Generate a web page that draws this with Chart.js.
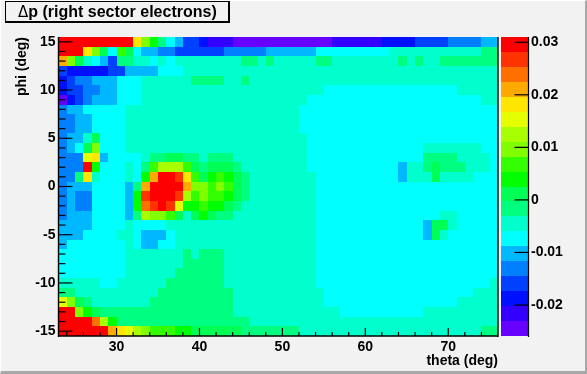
<!DOCTYPE html>
<html>
<head>
<meta charset="utf-8">
<title>dp right sector electrons</title>
<script src="https://cdn.jsdelivr.net/npm/chart.js@4"></script>
<style>
  html, body { margin: 0; padding: 0; overflow: hidden; background: #f2f2f2; }
  #frame { position: absolute; left: 0; top: 0; width: 587px; height: 374px; box-sizing: border-box;
           background: #f2f2f2; border-style: solid; border-width: 1px 2px 3px 1px;
           border-color: #fff #a8a8a8 #a8a8a8 #fff; }
  canvas { position: absolute; left: 0; top: 0; }
</style>
</head>
<body>
<div id="frame"></div>
<canvas id="mapChart" width="587" height="374"></canvas>
<canvas id="paletteChart" width="587" height="374"></canvas>
<script>
// bins
const thetaLow = 23;
const thetaHigh = 76;
const phiLow = -15.5;
const phiHigh = 15.5;

// dp per cell, in units of 0.001. One list per phi row, theta 23 -> 76
const phiP15 = [30,30,30,30,30,30,30,30,30,18, 10,4,-2,-7,-10,-16,-16,-19,-22,-22, -22,-25,-25,-25,-25,-25,-25,-25,-25,-25, -25,-25,-25,-22,-22,-22,-22,-22,-22,-19, -19,-19,-19,-16,-16,-16,-16,-13,-13,-13, -13,-10,-10];
const phiP14 = [30,30,30,18,10,1,-7,7,1,-7, -10,-10,-13,-13,-16,-16,-16,-16,-16,-16, -13,-13,-13,-13,-13,-10,-10,-10,-10,-10, -10,-7,-7,-7,-7,-7,-7,-7,-7,-7, -5,-5,-5,-5,-5,-5,-5,-5,-5,-5, -5,-2,-2];
const phiP13 = [21,10,1,-5,-7,-10,-16,-2,-2,-5, -5,-7,-5,-7,-5,-5,-5,-5,-5,-5, -5,-5,-2,-2,-5,-2,-5,-5,-5,-5, -5,-2,-2,-5,-5,-5,-5,-5,-5,-5, -5,-2,-5,-2,-5,-5,-2,-2,-2,-2, -2,-2,-2];
const phiP12 = [-16,-19,-19,-19,-19,-19,-16,-16,-10,-10, -10,-10,-7,-7,-7,-5,-5,-5,-5,-5, -5,-5,-5,-5,-5,-5,-5,-5,-5,-5, -5,-5,-5,-5,-5,-5,-5,-5,-5,-5, -5,-5,-5,-5,-5,-5,-5,-5,-5,-5, -5,-5,-5];
const phiP11 = [-19,-16,-13,-13,-10,-10,-10,-7,-7,-7, -5,-5,-5,-5,-5,-5,-2,-2,-2,-2, -5,-5,-2,-5,-5,-5,-5,-5,-5,-5, -5,-5,-5,-5,-5,-5,-5,-5,-5,-5, -5,-5,-5,-5,-5,-5,-5,-5,-5,-5, -5,-5,-5];
const phiP10 = [-19,-16,-16,-13,-13,-10,-10,-7,-7,-7, -5,-5,-5,-5,-5,-5,-5,-5,-5,-5, -5,-5,-5,-5,-5,-5,-5,-5,-5,-5, -5,-5,-7,-7,-7,-7,-7,-7,-7,-7, -7,-7,-7,-7,-7,-7,-7,-7,-5,-5, -5,-5,-5];
const phiP9 = [-25,-19,-16,-13,-10,-10,-10,-7,-7,-7, -5,-5,-5,-5,-5,-5,-5,-5,-5,-5, -5,-5,-5,-5,-5,-5,-5,-5,-5,-5, -7,-7,-7,-7,-7,-7,-7,-7,-7,-7, -7,-7,-7,-7,-7,-7,-7,-7,-7,-7, -7,-5,-5];
const phiP8 = [-13,-10,-10,-7,-7,-7,-7,-7,-5,-5, -5,-5,-5,-5,-5,-5,-5,-5,-5,-5, -5,-5,-5,-5,-5,-5,-5,-5,-5,-7, -7,-7,-7,-7,-7,-7,-7,-7,-7,-7, -7,-7,-7,-7,-7,-7,-7,-7,-7,-7, -7,-7,-7];
const phiP7 = [-13,-13,-10,-10,-7,-7,-7,-7,-5,-5, -5,-5,-5,-5,-5,-5,-5,-5,-5,-5, -5,-5,-5,-5,-5,-5,-5,-5,-5,-7, -7,-7,-7,-7,-7,-7,-7,-7,-7,-7, -7,-7,-7,-7,-7,-7,-7,-7,-7,-7, -7,-7,-7];
const phiP6 = [-13,-13,-10,-10,-7,-7,-7,-7,-5,-5, -5,-5,-5,-5,-5,-5,-5,-5,-5,-5, -5,-5,-5,-5,-5,-5,-5,-5,-5,-7, -7,-7,-7,-7,-7,-7,-7,-7,-7,-7, -7,-7,-7,-7,-7,-7,-7,-7,-7,-7, -7,-7,-7];
const phiP5 = [-13,-10,-10,-5,1,-7,-7,-7,-5,-5, -5,-5,-5,-5,-5,-5,-5,-5,-5,-5, -5,-5,-5,-5,-5,-5,-5,-5,-5,-5, -7,-7,-7,-7,-7,-7,-7,-7,-7,-7, -7,-7,-7,-7,-7,-7,-7,-7,-7,-7, -7,-7,-7];
const phiP4 = [-13,-10,-7,1,10,-7,-7,-7,-5,-5, -5,-5,-5,-5,-5,-5,-5,-5,-5,-5, -5,-5,-5,-5,-5,-5,-5,-5,-5,-5, -7,-7,-7,-7,-7,-7,-7,-7,-7,-7, -7,-7,-7,-7,-5,-5,-5,-5,-5,-5, -5,-7,-7];
const phiP3 = [-13,-13,-13,15,18,-10,-7,-7,-7,-7, -5,-2,-2,1,1,-2,-2,-5,-2,-2, -2,-5,-5,-5,-5,-5,-5,-5,-5,-5, -7,-7,-7,-7,-7,-7,-7,-7,-7,-7, -7,-7,-7,-7,-2,-2,-2,-2,-5,-5, -5,-5,-7];
const phiP2 = [-13,-13,-13,30,4,-7,-7,-7,-5,-7, -2,7,13,13,13,7,1,-2,1,1, 1,-2,-5,-5,-5,-5,-5,-5,-5,-5, -7,-7,-7,-7,-7,-7,-7,-7,-7,-7, -7,-10,-5,-5,-2,1,-2,-2,-2,-5, -5,-5,-7];
const phiP1 = [-13,-13,-2,18,-5,-7,-7,-7,-5,-7, 4,21,30,30,27,18,7,1,4,7, 4,1,-2,-5,-5,-5,-5,-5,-5,-5, -5,-7,-7,-7,-7,-7,-7,-7,-7,-7, -7,-10,-5,-5,-5,1,-5,-5,-5,-5, -7,-7,-7];
const phi0 = [-13,-10,-10,-10,-7,-7,-7,-7,-10,-2, 21,30,30,30,30,21,10,10,7,10, 7,1,-2,-5,-5,-5,-5,-5,-5,-5, -5,-7,-7,-7,-7,-7,-7,-7,-7,-7, -7,-7,-7,-7,-7,-7,-7,-7,-7,-7, -7,-7,-7];
const phiM1 = [-13,-10,-13,-13,-7,-7,-7,-7,-10,4, 27,30,30,30,27,13,7,10,7,7, 4,1,-2,-5,-5,-5,-5,-5,-5,-5, -5,-7,-7,-7,-7,-7,-7,-7,-7,-7, -7,-7,-7,-7,-7,-7,-7,-7,-7,-7, -7,-7,-7];
const phiM2 = [-13,-10,-13,-13,-7,-7,-7,-7,-10,4, 24,27,30,27,15,4,4,7,4,4, 1,-2,-5,-5,-5,-5,-5,-5,-5,-5, -5,-7,-7,-7,-7,-7,-7,-7,-7,-7, -7,-7,-7,-7,-7,-7,-7,-7,-7,-7, -7,-7,-7];
const phiM3 = [-13,-10,-10,-10,-7,-7,-7,-7,-10,-2, 13,10,10,7,1,-5,1,4,1,-2, -2,-5,-5,-5,-5,-5,-5,-5,-5,-5, -5,-7,-7,-7,-7,-7,-7,-7,-7,-7, -7,-7,-7,-7,-7,-7,-5,-5,-7,-7, -7,-7,-7];
const phiM4 = [-10,-10,-10,-10,-7,-7,-7,-7,-5,-7, -7,-7,-7,-5,-5,-5,-5,-5,-5,-5, -5,-5,-5,-5,-5,-5,-5,-5,-5,-5, -5,-7,-7,-7,-7,-7,-7,-7,-7,-7, -7,-7,-7,-7,-10,1,1,-5,-7,-7, -7,-7,-7];
const phiM5 = [-10,-10,-10,-7,-7,-7,-7,-5,-5,-7, -10,-10,-10,-7,-5,-5,-5,-5,-5,-5, -5,-5,-5,-5,-5,-5,-5,-5,-5,-5, -5,-7,-7,-7,-7,-7,-7,-7,-7,-7, -7,-7,-7,-7,-10,1,-5,-7,-7,-7, -7,-7,-7];
const phiM6 = [-10,-7,-7,-7,-7,-7,-7,-7,-5,-7, -10,-10,-7,-7,-5,-5,-5,-5,-5,-5, -5,-5,-5,-5,-5,-5,-5,-5,-5,-5, -5,-7,-7,-7,-7,-7,-7,-7,-7,-7, -7,-7,-7,-7,-7,-7,-7,-7,-7,-7, -7,-7,-7];
const phiM7 = [-7,-7,-7,-7,-7,-7,-7,-7,-5,-5, -5,-5,-5,-5,-5,-2,-5,-2,-2,-2, -5,-5,-5,-5,-5,-5,-5,-5,-5,-5, -5,-7,-7,-7,-7,-7,-7,-7,-7,-7, -7,-7,-7,-7,-7,-7,-7,-7,-7,-7, -7,-7,-7];
const phiM8 = [-7,-7,-7,-7,-7,-7,-7,-7,-5,-5, -5,-5,-5,-5,-5,-2,-2,-2,-2,-2, -5,-5,-5,-5,-5,-5,-5,-5,-5,-5, -5,-7,-7,-7,-7,-7,-7,-7,-7,-7, -7,-7,-7,-7,-7,-7,-7,-7,-7,-7, -7,-7,-7];
const phiM9 = [-7,-7,-7,-7,-7,-7,-7,-7,-5,-5, -5,-5,-5,-5,-2,-2,-2,-2,-2,-2, -5,-5,-5,-5,-5,-5,-5,-5,-5,-5, -5,-7,-7,-7,-7,-7,-7,-7,-7,-7, -7,-7,-7,-7,-7,-7,-7,-7,-7,-7, -7,-7,-7];
const phiM10 = [-5,-5,-5,-5,-5,-7,-7,-5,-5,-5, -5,-5,-5,-2,-2,-2,-2,-2,-2,-2, -5,-5,-5,-5,-5,-5,-5,-5,-5,-5, -5,-7,-7,-7,-7,-7,-7,-7,-7,-7, -7,-7,-7,-7,-7,-7,-7,-7,-7,-7, -7,-7,-5];
const phiM11 = [-2,-2,-5,-5,-5,-5,-5,-5,-5,-5, -5,-5,-2,-2,-2,-2,-2,-2,-2,-2, -2,-5,-5,-5,-5,-5,-5,-5,-5,-5, -5,-5,-7,-7,-7,-7,-7,-7,-7,-7, -7,-7,-7,-7,-7,-7,-7,-7,-7,-7, -5,-5,-5];
const phiM12 = [15,10,1,-2,-5,-5,-5,-5,-5,-5, -5,-2,-2,-2,-2,-2,-2,-2,-2,-2, -2,-5,-5,-5,-5,-5,-5,-5,-5,-5, -5,-5,-7,-7,-7,-7,-7,-7,-7,-7, -7,-7,-7,-7,-7,-7,-7,-7,-5,-5, -5,-5,-5];
const phiM13 = [30,30,10,4,1,-2,-2,-2,-2,-2, -2,-2,-2,-2,-2,-2,-2,-2,-2,-2, -2,-5,-5,-5,-5,-5,-5,-5,-5,-5, -5,-5,-5,-5,-7,-7,-7,-7,-7,-7, -7,-7,-7,-7,-5,-5,-5,-5,-5,-5, -5,-5,-5];
const phiM14 = [30,30,30,30,24,13,4,-2,-2,-2, -2,-2,-2,-2,-2,-2,-2,-2,-2,-2, -2,-2,-2,-5,-5,-5,-5,-5,-5,-5, -5,-5,-5,-5,-5,-5,-5,-5,-5,-5, -5,-5,-5,-5,-5,-5,-5,-5,-5,-5, -5,-5,-5];
const phiM15 = [30,30,30,30,30,30,21,18,15,13, 10,7,7,7,4,4,1,1,1,1, 1,1,-2,-2,-2,-2,-2,-2,-2,-5, -5,-5,-5,-5,-5,-5,-5,-5,-5,-5, -5,-5,-5,-5,-5,-5,-5,-5,-5,-5, -5,-2,-2];

// top row first, same order as the picture
const phiRows = [phiP15, phiP14, phiP13, phiP12, phiP11, phiP10, phiP9, phiP8, phiP7, phiP6, phiP5, phiP4, phiP3, phiP2, phiP1, phi0,
                 phiM1, phiM2, phiM3, phiM4, phiM5, phiM6, phiM7, phiM8, phiM9, phiM10, phiM11, phiM12, phiM13, phiM14, phiM15];

// palette, lowest level first
const paletteColors = ['#6600ff','#3300ff','#0010ff','#0040ff','#0080ff','#00b8ff','#00ffff','#00ffcc','#00ff80','#00ff55',
                       '#00ff00','#33ff00','#80ff00','#a8ff00','#e5ff00','#ffe600','#ffaa00','#ff7000','#ff3300','#ff0000'];
const zLow = -0.0259;
const zHigh = 0.031;

// tick labels
const thetaTicks = [30, 40, 50, 60, 70];
const thetaMinor = [24, 26, 28, 32, 34, 36, 38, 42, 44, 46, 48, 52, 54, 56, 58, 62, 64, 66, 68, 72, 74];
const phiTicks = [-15, -10, -5, 0, 5, 10, 15];
const phiMinor = [-14, -13, -12, -11, -9, -8, -7, -6, -4, -3, -2, -1, 1, 2, 3, 4, 6, 7, 8, 9, 11, 12, 13, 14];
const zTicks = [-0.02, -0.01, 0, 0.01, 0.02, 0.03];

const titleDelta = 'Δ';
const titleRest = 'p (right sector electrons)';

const boldFont = { family: "'Liberation Sans', Arial, sans-serif", size: 14, weight: 'bold' };

function colorFor(value) {
    const level = Math.floor((value - zLow) / (zHigh - zLow) * paletteColors.length);
    return paletteColors[Math.min(paletteColors.length - 1, Math.max(0, level))];
}

// bars are not on whole pixels, this keeps the cell edges hard like the original
const snapCells = {
    id: 'snapCells',
    beforeDatasetsDraw(chart) {
        chart.getSortedVisibleDatasetMetas().forEach(meta => {
            meta.data.forEach(bar => {
                const left = Math.round(bar.x - bar.width / 2);
                const right = Math.round(bar.x + bar.width / 2);
                bar.width = right - left;
                bar.x = left + bar.width / 2;
                bar.y = Math.round(bar.y);
                bar.base = Math.round(bar.base);
            });
        });
    }
};

function line(ctx, x1, y1, x2, y2) {
    ctx.beginPath();
    ctx.moveTo(x1, y1);
    ctx.lineTo(x2, y2);
    ctx.stroke();
}

// ticks go inside the frame, Chart.js only draws them outside
const insideTicks = {
    id: 'insideTicks',
    afterDatasetsDraw(chart) {
        const { ctx, chartArea: area, scales } = chart;
        ctx.save();
        ctx.strokeStyle = '#000';
        ctx.lineWidth = 1.4;
        line(ctx, area.left, area.top, area.left, area.bottom + 1);
        line(ctx, area.left, area.bottom, area.right, area.bottom);
        line(ctx, area.right, area.top, area.right, area.bottom + 1);
        ctx.lineWidth = 1.2;
        thetaTicks.forEach(v => { const x = scales.x.getPixelForValue(v); line(ctx, x, area.bottom, x, area.bottom - 8); });
        thetaMinor.forEach(v => { const x = scales.x.getPixelForValue(v); line(ctx, x, area.bottom, x, area.bottom - 4); });
        phiTicks.forEach(v => { const y = scales.y.getPixelForValue(v); line(ctx, area.left, y, area.left + 14, y); });
        phiMinor.forEach(v => { const y = scales.y.getPixelForValue(v); line(ctx, area.left, y, area.left + 7, y); });
        ctx.restore();
    }
};

const titleBox = {
    id: 'titleBox',
    afterDraw(chart) {
        const ctx = chart.ctx;
        ctx.save();
        ctx.fillStyle = '#f2f2f2';
        ctx.fillRect(5, 1, 224, 21);
        ctx.strokeStyle = '#000';
        ctx.lineWidth = 1;
        ctx.strokeRect(5.5, 1.5, 223, 20);
        ctx.lineWidth = 2;
        line(ctx, 5, 22, 230, 22);
        line(ctx, 229, 1, 229, 23);
        ctx.fillStyle = '#000';
        ctx.textBaseline = 'alphabetic';
        ctx.font = "15px 'DejaVu Sans', sans-serif";
        ctx.fillText(titleDelta, 18, 17);
        const deltaWidth = ctx.measureText(titleDelta).width;
        ctx.font = "bold 16px 'Liberation Sans', Arial, sans-serif";
        ctx.fillText(titleRest, 18 + deltaWidth, 17);
        ctx.restore();
    }
};

const mapDatasets = phiRows.map((row, r) => {
    const phiTop = phiHigh - r;
    return {
        data: row.map((v, k) => ({ x: thetaLow + k + 0.5, y: [phiTop - 1, phiTop] })),
        backgroundColor: row.map(v => colorFor(v / 1000)),
        borderWidth: 0,
        inflateAmount: 0,
        grouped: false,
        barPercentage: 1,
        categoryPercentage: 1
    };
});

new Chart(document.getElementById('mapChart'), {
    type: 'bar',
    data: { datasets: mapDatasets },
    options: {
        responsive: false,
        animation: false,
        events: [],
        layout: { padding: { top: 37, right: 89, left: 0, bottom: 0 } },
        plugins: { legend: { display: false }, tooltip: { enabled: false } },
        scales: {
            x: {
                type: 'linear',
                min: thetaLow,
                max: thetaHigh,
                offset: false,
                grid: { drawOnChartArea: false, drawTicks: false, offset: false },
                border: { display: false },
                afterBuildTicks: scale => { scale.ticks = thetaTicks.map(v => ({ value: v })); },
                afterFit: scale => { scale.height = 38; },
                ticks: { color: '#000', font: boldFont, padding: 3, maxRotation: 0, autoSkip: false },
                title: { display: true, text: 'theta (deg)', align: 'end', color: '#000', font: boldFont, padding: { top: 0, bottom: 4 } }
            },
            y: {
                min: phiLow,
                max: phiHigh,
                grid: { drawOnChartArea: false, drawTicks: false },
                border: { display: false },
                afterBuildTicks: scale => { scale.ticks = phiTicks.map(v => ({ value: v })); },
                afterFit: scale => { scale.width = 58.5; },
                ticks: { color: '#000', font: boldFont, padding: 3, autoSkip: false },
                title: { display: true, text: 'phi (deg)', align: 'end', color: '#000', font: boldFont, padding: { top: 14, bottom: 0 } }
            }
        }
    },
    plugins: [snapCells, insideTicks, titleBox]
});

// colour scale drawn as its own little chart on top
const paletteStep = (zHigh - zLow) / paletteColors.length;
const paletteDatasets = paletteColors.map((color, i) => ({
    data: [[zLow + i * paletteStep, zLow + (i + 1) * paletteStep]],
    backgroundColor: color,
    borderWidth: 0,
    inflateAmount: 0,
    grouped: false,
    barPercentage: 1,
    categoryPercentage: 1
}));

const paletteAxis = {
    id: 'paletteAxis',
    afterDatasetsDraw(chart) {
        const { ctx, chartArea: area, scales } = chart;
        ctx.save();
        ctx.strokeStyle = '#000';
        ctx.lineWidth = 1.2;
        line(ctx, area.right, area.top, area.right, area.bottom + 1);
        zTicks.forEach(v => { const y = scales.y.getPixelForValue(v); line(ctx, area.right - 14, y, area.right, y); });
        ctx.restore();
    }
};

new Chart(document.getElementById('paletteChart'), {
    type: 'bar',
    data: { labels: ['dp'], datasets: paletteDatasets },
    options: {
        responsive: false,
        animation: false,
        events: [],
        layout: { padding: { top: 37, left: 501, right: 0, bottom: 38 } },
        plugins: { legend: { display: false }, tooltip: { enabled: false } },
        scales: {
            x: { display: false },
            y: {
                position: 'right',
                min: zLow,
                max: zHigh,
                grid: { drawOnChartArea: false, drawTicks: false },
                border: { display: false },
                afterBuildTicks: scale => { scale.ticks = zTicks.map(v => ({ value: v })); },
                afterFit: scale => { scale.width = 58.5; },
                ticks: { color: '#000', font: boldFont, padding: 2.5, autoSkip: false, callback: v => String(v) }
            }
        }
    },
    plugins: [snapCells, paletteAxis]
});
</script>
</body>
</html>
